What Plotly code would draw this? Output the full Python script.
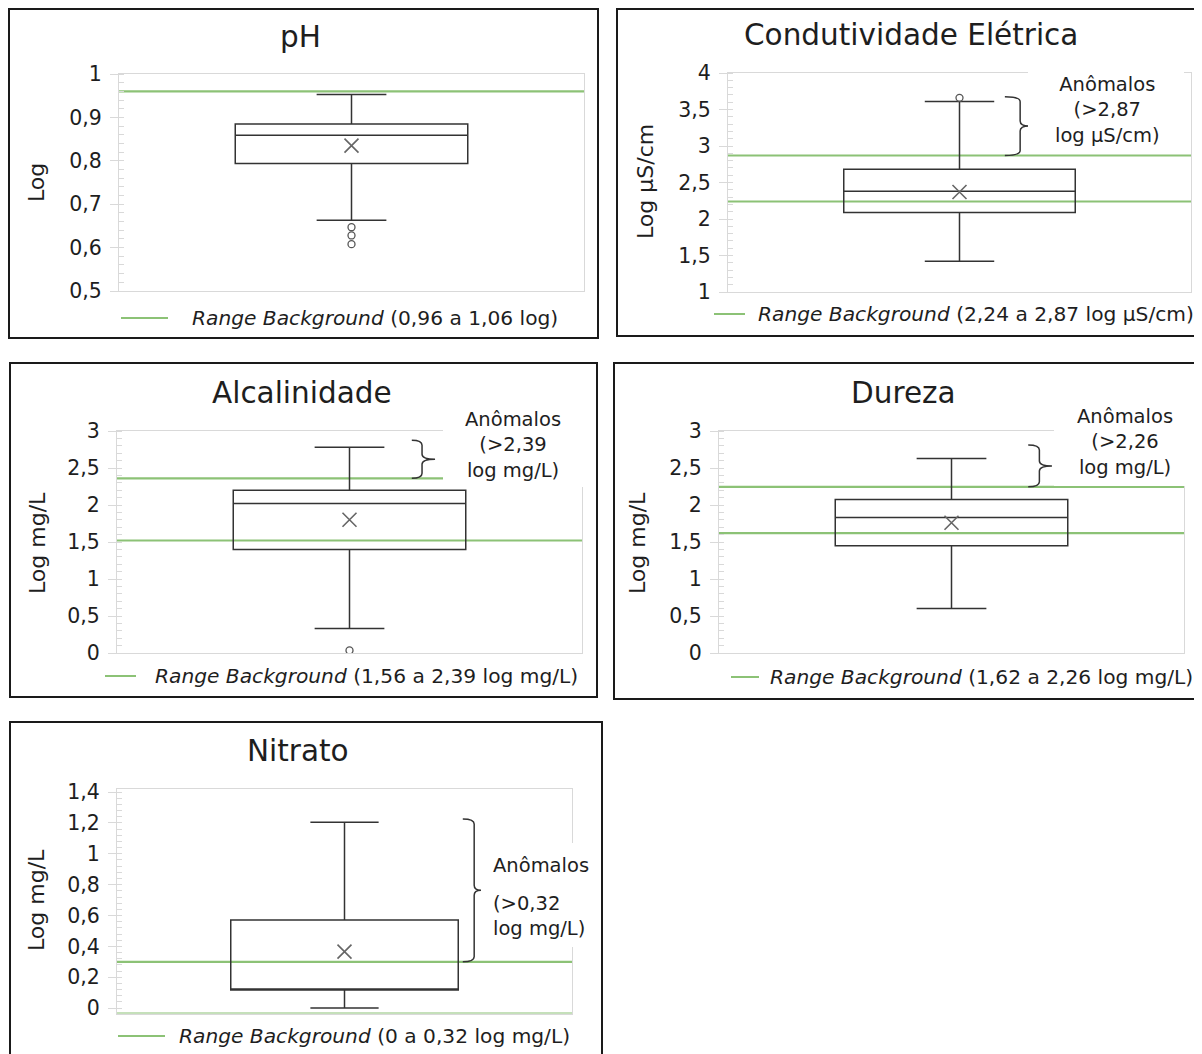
import plotly.graph_objects as go

W, H = 1202, 1054

# ---------------- data ----------------
panel_titles = ["pH", "Condutividade Elétrica", "Alcalinidade", "Dureza", "Nitrato"]
axis_titles = ["Log", "Log µS/cm", "Log mg/L", "Log mg/L", "Log mg/L"]

box_q1 = [0.794, 2.09, 1.40, 1.45, 0.117]
box_median = [0.859, 2.38, 2.02, 1.83, 0.117]
box_q3 = [0.885, 2.68, 2.20, 2.075, 0.571]
whisker_low = [0.663, 1.42, 0.33, 0.60, 0.0]
whisker_high = [0.953, 3.61, 2.78, 2.63, 1.204]
box_mean = [0.835, 2.37, 1.80, 1.76, 0.366]
outlier_values = [[0.647, 0.628, 0.608], [3.66], [0.035], [], []]

# background range lines as drawn (log units)
background_lines = [[0.96], [2.24, 2.87], [1.52, 2.36], [1.62, 2.245], [-0.035, 0.30]]
legend_ranges = ["(0,96 a 1,06 log)", "(2,24 a 2,87 log µS/cm)",
                 "(1,56 a 2,39 log mg/L)", "(1,62 a 2,26 log mg/L)",
                 "(0 a 0,32 log mg/L)"]
anomaly_labels = [None,
                  "Anômalos<br>(&gt;2,87<br>log µS/cm)",
                  "Anômalos<br>(&gt;2,39<br>log mg/L)",
                  "Anômalos<br>(&gt;2,26<br>log mg/L)",
                  None]
brace_tops = [None, 3.675, 2.875, 2.81, 1.226]

y_ranges = [[0.5, 1.0], [1, 4], [0, 3], [0, 3], [-0.035, 1.42]]
tick_values = [[0.5, 0.6, 0.7, 0.8, 0.9, 1.0],
               [1, 1.5, 2, 2.5, 3, 3.5, 4],
               [0, 0.5, 1, 1.5, 2, 2.5, 3],
               [0, 0.5, 1, 1.5, 2, 2.5, 3],
               [0, 0.2, 0.4, 0.6, 0.8, 1.0, 1.2, 1.4]]
tick_labels = [["0,5", "0,6", "0,7", "0,8", "0,9", "1"],
               ["1", "1,5", "2", "2,5", "3", "3,5", "4"],
               ["0", "0,5", "1", "1,5", "2", "2,5", "3"],
               ["0", "0,5", "1", "1,5", "2", "2,5", "3"],
               ["0", "0,2", "0,4", "0,6", "0,8", "1", "1,2", "1,4"]]
minor_steps = [0.02, 0.1, 0.1, 0.1, 0.04]

# ---------------- geometry / style (pixels) ----------------
FONT = "DejaVu Sans, Verdana, sans-serif"
TXT = "#1e1e1e"
GRID = "#d9d9d9"
BOXC = "#333333"
MEANC = "#666666"
GREEN = "#8cc276"
OFF_X, OFF_Y = 8, 8   # page body margin

frames = [(9, 9, 598, 338), (617, 9, 1212, 336), (10, 363, 597, 697),
          (614, 363, 1200, 699), (10, 722, 602, 1066)]
plot_px = [(119, 74, 584, 291), (728, 73, 1191, 292), (117, 431, 582, 653),
           (719, 431, 1184, 653), (117, 789, 572, 1013.5)]
title_px = [(300, 37), (911, 35), (302, 393), (903, 393), (298, 751)]
ytitle_px = [(37, 183), (646, 182), (37, 543), (637, 543), (36, 900)]
legend_px = [(121, 168, 190, 318), (714, 745, 756, 314), (105, 136, 153, 676),
             (731, 759, 768, 677), (118, 165, 177, 1036)]
green_right = [1.0, 1.03, 1.0, 1.0, 1.005]
brace_x = [None, (0.598, 0.631, 0.650), (0.634, 0.656, 0.684),
           (0.665, 0.689, 0.716), (0.760, 0.785, 0.800)]
covers = [None, (1028, 62, 1184, 150), (443, 400, 584, 487),
          (1054, 400, 1186, 486), (487, 843, 580, 947)]
anom_pos = [None, (1107, 110), (513, 445), (1125, 441.5), None]


def px(x):
    return (x - OFF_X) / W


def py(y):
    return 1 - (y - OFF_Y) / H


fig = go.Figure()
shapes = []
annotations = []
axes = {}

for i in range(5):
    n = "" if i == 0 else str(i + 1)
    xa, ya = "x" + n, "y" + n
    L, T, R, B = plot_px[i]
    axes["xaxis" + n] = dict(domain=[px(L), px(R)], range=[0, 1], anchor=ya,
                             showticklabels=False, ticks="", showgrid=False,
                             zeroline=False, showline=True, mirror=True,
                             linecolor=GRID, linewidth=1.3, fixedrange=True,
                             automargin=False)
    axes["yaxis" + n] = dict(domain=[py(B), py(T)], range=y_ranges[i], anchor=xa,
                             tickmode="array", tickvals=tick_values[i],
                             ticktext=tick_labels[i], ticks="outside", ticklen=8,
                             tickwidth=1.3, tickcolor=GRID, showline=True,
                             mirror=True, linecolor=GRID, linewidth=1.3,
                             showgrid=False, zeroline=False, ticklabelstandoff=4,
                             tickfont=dict(family=FONT, size=20.5, color=TXT),
                             minor=dict(ticks="inside", ticklen=5, tickwidth=1,
                                        tickcolor=GRID, tickmode="linear",
                                        tick0=0, dtick=minor_steps[i],
                                        showgrid=False),
                             fixedrange=True, automargin=False)

    # box
    fig.add_trace(go.Box(x=[0.5], q1=[box_q1[i]], median=[box_median[i]],
                         q3=[box_q3[i]], lowerfence=[whisker_low[i]],
                         upperfence=[whisker_high[i]], width=0.5,
                         whiskerwidth=0.3, fillcolor="rgba(0,0,0,0)",
                         line=dict(color=BOXC, width=1.5), boxpoints=False,
                         xaxis=xa, yaxis=ya, showlegend=False, hoverinfo="skip"))
    # mean marker
    fig.add_trace(go.Scatter(x=[0.5], y=[box_mean[i]], mode="markers",
                             marker=dict(symbol="x-thin", size=14, color=MEANC,
                                         line=dict(color=MEANC, width=1.6)),
                             xaxis=xa, yaxis=ya, showlegend=False, hoverinfo="skip"))
    # outliers
    if outlier_values[i]:
        fig.add_trace(go.Scatter(x=[0.5] * len(outlier_values[i]), y=outlier_values[i],
                                 mode="markers",
                                 marker=dict(symbol="circle-open", size=7, color="#555555",
                                             line=dict(width=1.3)),
                                 xaxis=xa, yaxis=ya, showlegend=False, hoverinfo="skip"))
    # background lines
    for v in background_lines[i]:
        shapes.append(dict(type="line", xref=xa, yref=ya, x0=0, x1=green_right[i],
                           y0=v, y1=v, line=dict(color=GREEN, width=2.2), layer="below"))

    # brace
    if brace_tops[i] is not None:
        xh, xv, xt = brace_x[i]
        yt = brace_tops[i]
        yb = background_lines[i][-1]
        ym = (yt + yb) / 2
        r = 5 * (y_ranges[i][1] - y_ranges[i][0]) / (B - T)
        path = (f"M{xh},{yt} Q{xv},{yt} {xv},{yt - r} L{xv},{ym + r} "
                f"Q{xv},{ym} {xt},{ym} Q{xv},{ym} {xv},{ym - r} "
                f"L{xv},{yb + r} Q{xv},{yb} {xh},{yb}")
        shapes.append(dict(type="path", xref=xa, yref=ya, path=path,
                           line=dict(color=BOXC, width=1.5)))

    # white cover behind the anomaly text
    if covers[i] is not None:
        cx0, cy0, cx1, cy1 = covers[i]
        shapes.append(dict(type="rect", xref="paper", yref="paper",
                           x0=px(cx0), x1=px(cx1), y0=py(cy1), y1=py(cy0),
                           fillcolor="white", line=dict(width=0), layer="above"))

    # frame
    fx0, fy0, fx1, fy1 = frames[i]
    shapes.append(dict(type="rect", xref="paper", yref="paper",
                       x0=px(fx0), x1=px(fx1), y0=py(fy1), y1=py(fy0),
                       line=dict(color="#1a1a1a", width=2), layer="above"))

    # title
    tx, ty = title_px[i]
    annotations.append(dict(text=panel_titles[i], x=px(tx), y=py(ty), xref="paper",
                            yref="paper", xanchor="center", yanchor="middle",
                            showarrow=False, font=dict(family=FONT, size=29.5, color=TXT)))
    # y title
    ax_, ay_ = ytitle_px[i]
    annotations.append(dict(text=axis_titles[i], x=px(ax_), y=py(ay_), xref="paper",
                            yref="paper", xanchor="center", yanchor="middle",
                            textangle=-90, showarrow=False,
                            font=dict(family=FONT, size=22, color=TXT)))
    # legend
    lx0, lx1, ltx, ly = legend_px[i]
    shapes.append(dict(type="line", xref="paper", yref="paper", x0=px(lx0), x1=px(lx1),
                       y0=py(ly), y1=py(ly), line=dict(color=GREEN, width=2)))
    annotations.append(dict(text="<i>Range Background</i> " + legend_ranges[i],
                            x=px(ltx), y=py(ly), xref="paper", yref="paper",
                            xanchor="left", yanchor="middle", showarrow=False,
                            font=dict(family=FONT, size=20.2, color=TXT)))
    # anomaly text
    if anomaly_labels[i] is not None:
        ax2, ay2 = anom_pos[i]
        annotations.append(dict(text=anomaly_labels[i], x=px(ax2), y=py(ay2),
                                xref="paper", yref="paper", xanchor="center",
                                yanchor="middle", align="center", showarrow=False,
                                font=dict(family=FONT, size=19.5, color=TXT)))

# Nitrato anomaly text (left aligned, with a gap after the first line)
annotations.append(dict(text="Anômalos", x=px(491), y=py(865), xref="paper", yref="paper",
                        xanchor="left", yanchor="middle", showarrow=False,
                        font=dict(family=FONT, size=19.5, color=TXT)))
annotations.append(dict(text="(&gt;0,32<br>log mg/L)", x=px(491), y=py(915.5),
                        xref="paper", yref="paper", xanchor="left", yanchor="middle",
                        align="left", showarrow=False,
                        font=dict(family=FONT, size=19.5, color=TXT)))

fig.update_layout(width=W, height=H, margin=dict(l=0, r=0, t=0, b=0, autoexpand=False),
                  paper_bgcolor="white", plot_bgcolor="rgba(0,0,0,0)",
                  showlegend=False, shapes=shapes, annotations=annotations,
                  font=dict(family=FONT, color=TXT), **axes)

fig.write_html("out.html")
